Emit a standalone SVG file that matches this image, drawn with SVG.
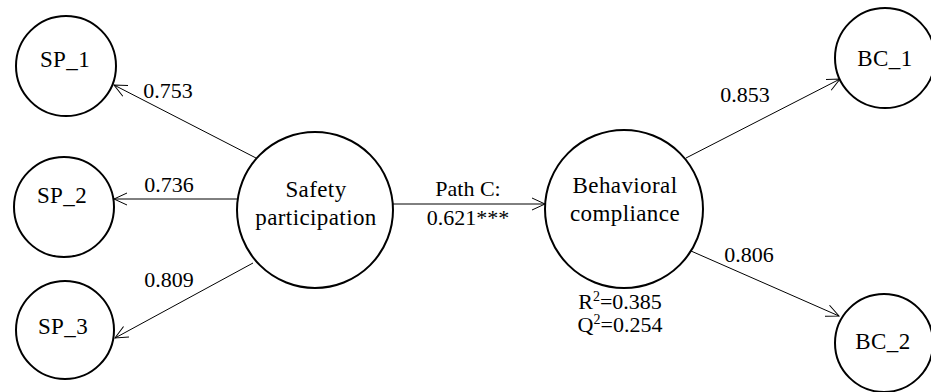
<svg xmlns="http://www.w3.org/2000/svg" width="931" height="392" viewBox="0 0 931 392">
<style>
.node{fill:#fff;stroke:#000;stroke-width:2}
.lbl{font-size:22px;fill:#000;text-anchor:middle}
.nl{font-size:23px;letter-spacing:0.4px}
.edge{stroke:#000;stroke-width:1;fill:none;marker-end:url(#arr)}
.sup{font-size:14px}
</style>
<defs>
<marker id="arr" markerUnits="userSpaceOnUse" markerWidth="14" markerHeight="14" refX="13" refY="7" orient="auto" viewBox="0 0 14 14">
<path d="M0,1 L13,7 L0,13" fill="none" stroke="#000" stroke-width="1"/>
</marker>
</defs>
<rect width="931" height="392" fill="#fff"/>
<g font-family="'Liberation Serif', 'DejaVu Serif', serif">
<g id="connectors">
<line class="edge" x1="256" y1="158" x2="114" y2="85"/>
<line class="edge" x1="237" y1="199" x2="114" y2="199"/>
<line class="edge" x1="253" y1="263" x2="115" y2="338"/>
<line class="edge" x1="393" y1="204" x2="545" y2="204"/>
<line class="edge" x1="686" y1="158" x2="840" y2="79"/>
<line class="edge" x1="691" y1="251" x2="839" y2="316"/>
<text class="lbl" x="168" y="98">0.753</text>
<text class="lbl" x="169" y="192">0.736</text>
<text class="lbl" x="169" y="287">0.809</text>
<text class="lbl" x="468" y="196">Path C:</text>
<text class="lbl" x="468" y="225">0.621***</text>
<text class="lbl" x="745" y="102">0.853</text>
<text class="lbl" x="749" y="262">0.806</text>
</g>
<g id="SP_1">
<circle class="node" cx="66" cy="66" r="50"/>
<text class="lbl nl" x="65" y="67">SP_1</text>
</g>
<g id="SP_2">
<circle class="node" cx="64" cy="207" r="50"/>
<text class="lbl nl" x="62" y="203">SP_2</text>
</g>
<g id="SP_3">
<circle class="node" cx="65" cy="330" r="49"/>
<text class="lbl nl" x="63" y="334">SP_3</text>
</g>
<g id="safety_participation">
<circle class="node" cx="315" cy="210" r="78"/>
<text class="lbl nl" x="316" y="197">Safety</text>
<text class="lbl nl" x="316" y="225">participation</text>
</g>
<g id="behavioral_compliance">
<circle class="node" cx="624" cy="209" r="79"/>
<text class="lbl nl" x="625" y="193">Behavioral</text>
<text class="lbl nl" x="625" y="221">compliance</text>
<text class="lbl" x="620" y="309">R<tspan class="sup" dy="-8">2</tspan><tspan dy="8">=0.385</tspan></text>
<text class="lbl" x="620" y="332">Q<tspan class="sup" dy="-8">2</tspan><tspan dy="8">=0.254</tspan></text>
</g>
<g id="BC_1">
<circle class="node" cx="885" cy="58" r="50"/>
<text class="lbl nl" x="885" y="66">BC_1</text>
</g>
<g id="BC_2">
<circle class="node" cx="884" cy="343" r="49"/>
<text class="lbl nl" x="883" y="349">BC_2</text>
</g>
</g>
</svg>
